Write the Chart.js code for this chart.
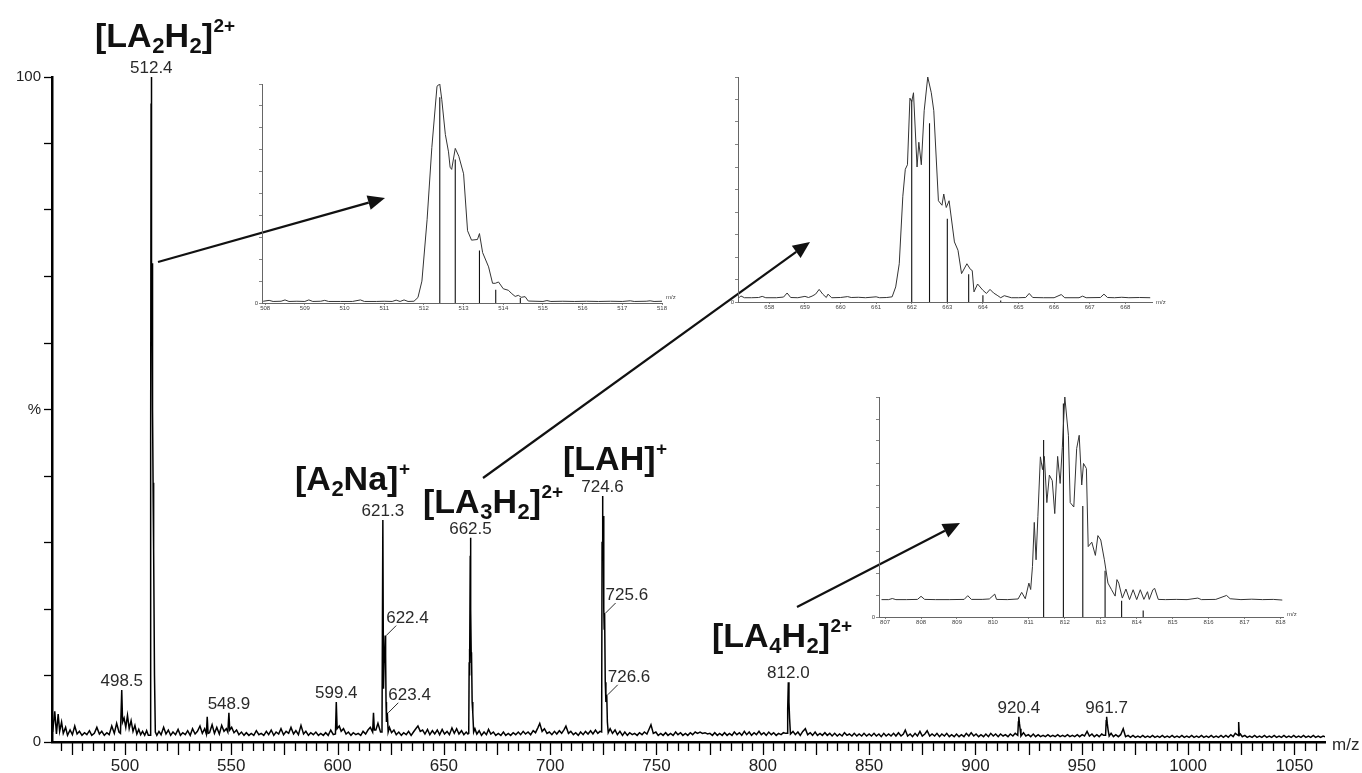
<!DOCTYPE html>
<html><head><meta charset="utf-8">
<script src="https://cdn.jsdelivr.net/npm/chart.js@4.4.0/dist/chart.umd.min.js"></script>
<style>
html,body{margin:0;padding:0;background:#fff;}
#wrap{position:relative;width:1362px;height:773px;overflow:hidden;background:#fff;}
canvas{position:absolute;}
</style></head><body>
<div id="wrap">
<canvas id="main" width="1362" height="773" style="left:0;top:0"></canvas>
<canvas id="in1" width="460" height="245" style="left:230px;top:70px"></canvas>
<canvas id="in2" width="490" height="250" style="left:705px;top:65px"></canvas>
<canvas id="in3" width="470" height="250" style="left:845px;top:385px"></canvas>
</div>
<script>
// ---------------- DATA ----------------
// main spectrum: baseline noise (m/z, %)
const noiseMz = [466,467,467.8,468.6,469.3,470.2,471,472.1,473,474.2,475.3,476.4,477.5,478.6,479.8,481,482.1,483.3,484.4,485.6,486.8,488,489.1,490.3,491.5,492.6,493.8,495,496.1,497.2,
499.6,500.4,501.2,502,502.9,503.8,504.7,505.6,506.5,507.4,508.3,509.3,510.2,511,
515,516,517,518.2,519.3,520.4,521.5,522.6,523.8,525,526.1,527.2,528.4,529.5,530.7,531.8,533,534.1,535.3,536.4,537.5,539.8,541,542.1,543.2,544.4,545.5,546.6,547.7,
550.2,551.3,552.5,553.6,554.8,556,557.1,558.3,559.4,560.6,561.8,563,564.1,565.3,566.5,567.6,568.8,570,571.1,572.3,573.4,574.6,575.8,577,578.1,579.3,580.4,581.6,582.8,584,585.1,586.3,587.4,588.6,589.8,591,592.1,593.3,594.4,595.6,596.8,598,
600.8,601.7,602.8,604,605.1,606.3,607.4,608.6,609.7,610.9,612,613.2,614.3,615.4,618,619,620.2,
624.4,625.4,626.5,627.6,628.8,630,631.1,632.3,633.4,634.6,635.7,636.8,637.8,638.9,640,641.1,642.3,643.4,644.6,645.7,646.9,648,649.2,650.3,651.5,652.6,653.8,654.9,656,657.1,658.3,659.4,660.5,661.3,
664.6,665.5,666.6,667.7,668.9,670,671,672.1,673.3,674.4,675.6,676.8,678,679.1,680.3,681.4,682.6,683.8,685,686.1,687.3,688.4,689.6,690.8,692,693.1,694.3,695.1,696.2,697.3,698.5,699.6,700.8,702,703.1,704.3,705.4,706.6,707.4,708.6,709.7,710.9,712,713.2,714.3,715.5,716.6,717.8,719,720.1,721.3,722.4,723.4,
728.2,729.3,730.5,731.6,732.8,734,735.1,736.3,737.4,738.6,739.7,740.9,742,743.2,744.3,745.5,746.6,747.4,748.5,749.7,750.8,752,753.1,754.3,755.4,756.6,757.8,759,760.1,761.3,762.4,763.6,764.7,765.9,767,768.2,769.3,770.5,771.6,772.8,774,775.1,776.3,777.4,778.6,779.7,780.9,782,783.2,784.3,785.5,786.6,787.8,789,790.1,791.3,792.4,793.6,794.7,795.9,797,798.2,799.3,800.5,801.6,802.8,804,805.1,806.3,807.4,808.6,809.7,810.8,
814.2,815.3,816.5,817.6,818.8,820,821.1,822.3,823.4,824.6,825.7,826.9,828,829.2,830.3,831.5,832.6,833.8,835,836.1,837.3,838.4,839.6,840.7,841.9,843,844.2,845.3,846.5,847.6,848.8,850,851.1,852.3,853.4,854.6,855.7,856.9,858,859.2,860.3,861.5,862.6,863.8,865,866.1,867,868.1,869.3,870.4,871.6,872.7,873.9,875,876.2,877.3,878.5,879.6,880.8,881.9,883.1,884.2,885.4,886.5,887.7,888.8,890,891.1,892.3,893.4,894.6,895.7,896.9,898,899.2,900.3,901.5,902.6,903.8,904.9,906.1,907.2,908.4,909.5,910.7,911.8,913,914.1,915.3,916.4,917.6,918.7,
922.6,923.7,924.9,926,927.2,928.3,929.5,930.6,931.8,932.9,934.1,935.2,936.4,937.5,938.7,939.8,941,942.1,943.3,944.4,945.6,946.7,947.9,949,950.2,951.3,952.5,953.6,954.8,955.9,957.1,958.2,959.4,960.3,
963.8,964.9,966,967.2,968.3,969.5,970.6,971.8,972.9,974.1,975.2,976.4,977.5,978.7,979.8,981,982.1,983.3,984.4,985.6,986.7,987.9,989,990.2,991.3,992.5,993.6,994.8,995.9,997.1,998.2,999.4,1000.5,1001.7,1002.8,1004,1005.1,1006.3,1007.4,1008.6,1009.7,1010.9,1012,1013.2,1014.3,1015.5,1016.6,1017.8,1018.9,1020.1,1021.2,1022.2,
1024.6,1025.5,1026.7,1027.8,1029,1030.1,1031.3,1032.4,1033.6,1034.7,1035.9,1037,1038.2,1039.3,1040.5,1041.6,1042.8,1043.9,1045.1,1046.2,1047.4,1048.5,1049.7,1050.8,1052,1053.1,1054.3,1055.4,1056.6,1057.7,1058.9,1060,1061.2,1062.3,1063.5,1064.4];
const noiseInt = [1.5,4.6,1.2,4.2,1.6,3.0,1.3,2.2,1.0,1.8,1.1,2.4,1.2,1.6,1.0,1.4,1.1,1.7,1.0,1.3,2.2,1.2,1.6,1.0,1.4,1.1,2.4,1.3,2.8,1.5,
3.6,2.2,4.0,2.0,3.2,1.6,2.5,1.2,1.9,1.1,1.6,1.0,1.7,1.0,
1.0,1.6,1.1,2.2,1.2,1.8,1.0,1.5,1.1,1.9,1.0,1.4,1.1,1.7,1.0,2.0,1.2,1.6,2.4,1.3,2.0,1.4,2.6,1.3,2.2,1.2,2.5,1.6,2.0,
2.2,1.4,1.8,1.1,1.5,1.0,1.4,1.0,1.3,1.0,1.7,1.1,1.3,1.0,1.6,1.1,1.8,1.0,1.5,1.2,2.0,1.1,1.6,1.3,2.2,1.2,1.7,1.1,2.5,1.2,1.6,1.0,1.4,1.1,1.5,1.0,1.3,1.0,1.4,1.0,1.8,1.1,
2.4,1.6,2.0,1.2,1.5,1.0,1.4,1.1,1.3,1.0,1.6,1.2,1.8,2.2,1.8,2.8,1.5,
2.2,1.4,1.8,1.1,1.5,1.0,1.4,1.1,1.6,1.0,1.5,2.0,2.4,1.6,1.8,1.2,1.9,1.1,1.7,1.2,1.8,1.1,1.9,1.2,1.6,1.1,2.1,1.3,2.0,1.2,1.7,1.1,1.5,1.2,
2.0,1.2,1.7,1.0,1.5,1.1,1.9,1.2,1.5,1.0,1.3,1.0,1.5,1.0,1.3,1.0,1.4,1.1,1.5,1.1,1.6,1.2,1.5,1.1,1.7,1.4,2.2,2.8,1.6,2.0,1.3,1.5,1.1,1.6,1.2,1.7,1.3,1.9,2.4,1.3,1.6,1.1,1.4,1.0,1.5,1.1,1.6,1.2,1.7,1.2,1.8,1.3,1.6,
2.0,1.3,1.8,1.1,1.6,1.0,1.5,1.0,1.4,1.1,1.3,1.0,1.4,1.1,1.5,1.2,2.0,2.6,1.3,1.5,1.0,1.3,1.0,1.4,1.0,1.3,1.0,1.5,1.1,1.4,1.0,1.3,1.0,1.4,1.1,1.5,1.3,1.5,1.3,1.4,1.2,1.3,1.0,1.4,1.0,1.3,1.0,1.4,1.0,1.3,1.0,1.5,1.1,1.4,1.0,1.6,1.1,1.5,1.0,1.4,1.1,1.6,1.1,1.4,1.0,1.5,1.1,1.4,1.0,1.3,1.1,1.4,1.3,
1.6,1.1,1.5,1.0,1.6,2.0,1.1,1.4,1.0,1.5,1.0,1.3,1.0,1.4,1.0,1.3,0.9,1.3,0.9,1.2,0.9,1.4,1.0,1.2,0.9,1.3,0.9,1.2,0.9,1.3,0.9,1.2,0.9,1.3,0.9,1.2,0.8,1.3,0.9,1.2,0.9,1.3,0.9,1.4,0.9,1.2,1.8,0.9,1.2,0.8,1.3,0.9,1.6,0.9,1.2,1.7,0.9,1.2,0.9,1.3,0.8,1.2,0.9,1.3,0.8,1.1,0.8,1.2,0.8,1.1,0.8,1.3,0.9,1.4,0.9,1.2,0.8,1.1,0.8,1.2,0.8,1.3,0.9,1.2,0.8,1.2,0.9,1.1,0.8,1.2,0.9,1.3,
1.4,0.9,1.1,0.8,1.2,0.8,1.1,0.8,1.0,0.8,1.1,0.8,1.0,0.8,1.1,0.8,1.0,0.8,1.1,0.8,1.0,0.8,1.1,0.8,1.1,0.9,1.6,0.9,1.2,0.8,1.1,0.8,1.2,1.0,
1.3,0.8,1.1,0.8,1.1,2.0,0.8,1.0,0.7,1.0,0.7,0.9,0.7,1.0,0.7,0.9,0.7,1.0,0.7,0.9,0.7,1.0,0.7,0.9,0.7,1.0,0.7,0.9,0.7,1.0,0.7,0.9,0.7,1.0,0.7,0.9,0.7,1.0,0.7,0.9,0.7,1.0,0.7,0.9,0.7,1.0,0.7,1.0,0.7,1.1,0.8,1.3,
1.2,0.8,1.0,0.7,0.9,0.7,1.0,0.7,0.9,0.7,1.0,0.7,0.9,0.7,1.0,0.7,0.9,0.7,1.0,0.7,0.9,0.7,1.0,0.7,0.9,0.7,1.0,0.7,0.9,0.7,1.0,0.7,0.9,0.7,0.9,0.8];
// main spectrum: peak profiles (m/z, %)
const peakMz = [497.9,498.5,498.9,
511.9,512.1,512.3,512.4,512.5,512.6,512.75,512.85,513.0,513.1,513.3,513.4,513.6,513.9,514.3,
538.3,538.7,539.1, 548.4,548.9,549.3, 599.0,599.4,599.8, 616.5,616.9,617.3,
620.9,621.3,621.6,621.9,622.2,622.4,622.6,622.8,623.0,623.4,623.8,
661.7,661.9,662.0,662.2,662.4,662.5,662.7,662.9,663.0,663.3,663.6,664.0,
724.2,724.4,724.6,724.8,725.0,725.1,725.3,725.4,725.6,725.9,726.2,726.4,726.6,726.9,727.3,
811.4,811.7,812.0,812.3,812.6,813.0,
919.9,920.2,920.4,920.7,921.0,921.4,
961.2,961.5,961.7,962.0,962.4,962.9,
1023.5,1023.8,1024.1];
const peakInt = [1.3,7.8,3.0,
1.0,45,96,100,80,62,70,72,66,50,36,39,29,10,1.5,
1.2,3.8,1.3, 1.5,4.4,1.8, 1.2,6.0,2.0, 1.5,4.4,1.8,
1.5,33.4,8,12,14,16,13,6,3.0,4.4,1.5,
1.3,12,14,10,28,30.7,20,12,13.5,6,4.4,1.5,
1.5,30,37,30,34,33,20,17,19.4,9,6,6.5,7.1,3,1.4,
1.3,5,9,6,3.5,1.2,
1.0,3.0,3.8,2.8,2.0,0.9,
1.0,3.2,3.8,2.8,1.8,0.9,
1.0,3.0,1.0];
// labelled peaks (value text, m/z, apex %)
const labelMz  = [498.5,512.4,548.9,599.4,621.3,662.5,724.6,812.0,920.4,961.7];
const labelInt = [7.8,100,4.4,6.0,33.4,30.7,37,9,3.8,3.8];
const sideLabelMz  = [622.4,623.4,725.6,726.6];
const sideLabelInt = [16,4.4,19.4,7.1];
const yTickText = {0:'0',50:'%',100:'100'};

// inset 1 (m/z 508-518)
const in1Mz = [507.95,508.1,508.2,508.4,508.5,508.6,508.8,509.0,509.1,509.2,509.4,509.5,509.6,509.9,510.2,510.4,510.5,510.8,511.0,511.2,511.3,511.4,511.5,511.6,511.75,511.85,511.95,512.08,512.2,512.33,512.4,512.45,512.54,512.62,512.66,512.7,512.79,512.88,513.0,513.1,513.2,513.35,513.4,513.48,513.63,513.73,513.8,513.88,514.0,514.13,514.2,514.3,514.38,514.45,514.55,514.63,514.8,515.0,515.1,515.2,515.5,515.8,516.1,516.4,516.7,517.0,517.2,517.3,517.6,517.7,517.8,518.0];
const in1Int = [0.8,1.2,0.7,0.8,1.4,0.7,0.8,0.7,1.4,0.7,0.8,1.2,0.7,0.7,0.7,1.4,0.7,0.7,0.8,0.7,1.3,0.7,1.4,0.7,0.8,2.5,10,38,71,99,100,93,77,69,62,61,70.6,67,59,33,28.7,29,31.7,23,16.5,9,9,9.6,6.5,5.8,4.5,3.0,3.5,2.6,2.9,0.9,0.8,0.7,1.1,0.7,0.8,0.7,0.8,0.7,0.8,0.7,1.0,0.7,0.8,1.0,0.7,0.8];
const in1StickMz  = [512.4,512.79,513.4,513.81,514.43];
const in1StickInt = [94,65.5,24,6,2.3];

// inset 2 (m/z 657-668)
const in2Mz = [657.15,657.2,657.3,657.5,657.7,657.8,657.9,658.2,658.4,658.5,658.6,658.8,659.0,659.1,659.2,659.3,659.4,659.5,659.6,659.65,659.75,660.0,660.2,660.3,660.5,660.7,661.0,661.1,661.3,661.45,661.55,661.65,661.75,661.82,661.88,661.95,662.0,662.05,662.15,662.2,662.27,662.35,662.45,662.55,662.62,662.75,662.85,662.9,662.97,663.05,663.2,663.3,663.4,663.55,663.65,663.7,663.75,663.85,664.0,664.1,664.2,664.3,664.4,664.5,664.6,664.8,665.0,665.2,665.3,665.4,665.7,666.0,666.2,666.3,666.7,666.8,666.9,667.3,667.4,667.5,667.7,667.9,668.1,668.4,668.7];
const in2Int = [1.9,2.7,1.9,1.9,2.0,2.5,1.9,1.9,2.2,4.0,2.0,1.9,2.5,2.0,2.6,3.5,5.6,3.5,2.0,3.5,1.9,2.0,2.4,2.0,2.1,1.9,2.3,1.9,2.0,2.3,6.7,17,47,59,61,90.6,89,93,60,71,61,85,100,93,85,45,43,48,42,45,26.7,23,12.6,17,14.5,14,4.5,8,5.2,3.8,5.6,4.0,3.0,1.9,2.8,1.9,1.9,2.0,3.8,2.0,1.9,1.9,3.3,1.9,1.9,2.6,1.9,2.0,3.5,2.0,1.9,2.1,1.9,2.0,1.9];
const in2StickMz  = [662.0,662.5,663.0,663.6,664.0,664.5];
const in2StickInt = [89.9,79.5,37,12.3,3,0.7];

// inset 3 (m/z 807-818)
const in3Mz = [806.9,807.1,807.2,807.3,807.6,807.9,808.0,808.1,808.4,808.8,809.2,809.3,809.4,809.7,809.9,810.05,810.1,810.4,810.7,810.8,810.9,811.0,811.05,811.1,811.15,811.2,811.25,811.32,811.38,811.43,811.5,811.57,811.65,811.72,811.8,811.87,811.93,812.0,812.1,812.15,812.25,812.33,812.4,812.47,812.52,812.6,812.65,812.75,812.85,812.92,813.0,813.1,813.2,813.3,813.4,813.45,813.5,813.6,813.7,813.8,813.9,814.0,814.1,814.2,814.3,814.35,814.45,814.5,814.6,814.8,815.1,815.4,815.7,815.8,816.2,816.5,816.6,816.9,817.2,817.5,817.8,818.05];
const in3Int = [7.9,7.9,8.4,7.9,7.9,8.0,9.4,8.0,7.9,7.9,8.0,9.7,8.0,8.0,8.2,10.4,8.0,7.9,8.2,11.2,8.3,15.4,12.5,23,43,26,45.6,72.8,67,73,52,64.5,62,47,73,60.7,77,100,82.6,52,50,76.6,82.6,60,69.8,67.5,32,34,28,37,35,26,15.4,12.4,9.5,17,15.4,8.6,12.7,7.9,12.4,7.9,12.4,8.0,11.5,8.0,12.4,13,8.0,7.9,8.0,7.9,8.6,7.9,8.0,9.8,8.3,7.9,8.1,7.9,8.0,7.7];
const in3StickMz  = [811.41,811.96,812.5,813.12,813.58,814.18];
const in3StickInt = [80.4,97,50.5,21,7.4,3];

// ---------------- BUILD ----------------
const FF = '"Liberation Sans", Arial, Helvetica, sans-serif';
const toPts = (xs, ys) => xs.map((x, i) => ({x: x, y: ys[i]}));
const mainPts = toPts(noiseMz, noiseInt).concat(toPts(peakMz, peakInt)).sort((a, b) => a.x - b.x);
function stickPts(xs, ys) {
  const out = [];
  xs.forEach((x, i) => { out.push({x: x, y: 0}, {x: x, y: ys[i]}, {x: x, y: null}); });
  return out;
}

const ions = [
  {x: 95,  y: 47,  parts: [['[LA',''],['2','sub'],['H',''],['2','sub'],[']',''],['2+','sup']]},
  {x: 295, y: 490, parts: [['[A',''],['2','sub'],['Na]',''],['+','sup']]},
  {x: 423, y: 513, parts: [['[LA',''],['3','sub'],['H',''],['2','sub'],[']',''],['2+','sup']]},
  {x: 563, y: 470, parts: [['[LAH]',''],['+','sup']]},
  {x: 712, y: 647, parts: [['[LA',''],['4','sub'],['H',''],['2','sub'],[']',''],['2+','sup']]}
];
const arrows = [[158, 262, 385, 198], [483, 478, 810, 242], [797, 607, 960, 523]];

function drawFormula(ctx, parts, x, y, size) {
  let cx = x;
  ctx.textBaseline = 'alphabetic';
  ctx.textAlign = 'left';
  parts.forEach(([t, k]) => {
    let fs = size, dy = 0;
    if (k === 'sub') { fs = Math.round(size * 0.66); dy = size * 0.18; }
    if (k === 'sup') { fs = Math.round(size * 0.55); dy = -size * 0.44; }
    ctx.font = 'bold ' + fs + 'px ' + FF;
    ctx.fillText(t, cx, y + dy);
    cx += ctx.measureText(t).width + (k === '' ? 0.5 : 0);
  });
}
function drawArrow(ctx, x1, y1, x2, y2) {
  const a = Math.atan2(y2 - y1, x2 - x1), L = 17, W = 7.5;
  const bx = x2 - L * Math.cos(a), by = y2 - L * Math.sin(a);
  ctx.beginPath(); ctx.moveTo(x1, y1); ctx.lineTo(bx, by);
  ctx.lineWidth = 2.2; ctx.strokeStyle = '#111'; ctx.stroke();
  ctx.beginPath(); ctx.moveTo(x2, y2);
  ctx.lineTo(bx + W * Math.sin(a), by - W * Math.cos(a));
  ctx.lineTo(bx - W * Math.sin(a), by + W * Math.cos(a));
  ctx.closePath(); ctx.fillStyle = '#111'; ctx.fill();
}

const mainPlugin = {
  id: 'mainDeco',
  afterDraw(chart) {
    const ctx = chart.ctx, xs = chart.scales.x, ys = chart.scales.y, ca = chart.chartArea;
    ctx.save();
    // x ticks (minor every 5, major every 25)
    ctx.strokeStyle = '#000'; ctx.lineWidth = 1.3;
    ctx.beginPath();
    xs.ticks.forEach(t => {
      const px = Math.round(xs.getPixelForValue(t.value)) + 0.5;
      const len = (Math.round(t.value) % 25 === 0) ? 12 : 8;
      ctx.moveTo(px, ca.bottom + 1); ctx.lineTo(px, ca.bottom + 1 + len);
    });
    ctx.stroke();
    // peak value labels
    ctx.fillStyle = '#2a2a2a'; ctx.font = '17px ' + FF;
    ctx.textAlign = 'center'; ctx.textBaseline = 'alphabetic';
    labelMz.forEach((m, i) => {
      ctx.fillText(m.toFixed(1), xs.getPixelForValue(m), ys.getPixelForValue(labelInt[i]) - 4);
    });
    ctx.textAlign = 'left';
    ctx.strokeStyle = '#2a2a2a'; ctx.lineWidth = 1;
    sideLabelMz.forEach((m, i) => {
      const px = xs.getPixelForValue(m), py = ys.getPixelForValue(sideLabelInt[i]);
      ctx.beginPath(); ctx.moveTo(px + 1, py); ctx.lineTo(px + 11, py - 10); ctx.stroke();
      ctx.fillText(m.toFixed(1), px + 1, py - 13);
    });
    // m/z
    ctx.font = '17px ' + FF; ctx.textBaseline = 'middle';
    ctx.fillText('m/z', ca.right + 7, ca.bottom + 3);
    // ion formulas
    ctx.fillStyle = '#111';
    ions.forEach(o => drawFormula(ctx, o.parts, o.x, o.y, 34));
    // arrows
    arrows.forEach(a => drawArrow(ctx, a[0], a[1], a[2], a[3]));
    ctx.restore();
  }
};

new Chart(document.getElementById('main'), {
  type: 'line',
  data: {datasets: [{data: mainPts, borderColor: '#000', borderWidth: 1.5, pointRadius: 0, tension: 0, fill: false}]},
  options: {
    responsive: false, animation: false, events: [], parsing: true,
    plugins: {legend: {display: false}, tooltip: {enabled: false}},
    layout: {padding: {left: 0, top: 77, right: 37, bottom: 0}},
    scales: {
      x: {
        type: 'linear', min: 465.7, max: 1064.4,
        afterFit(s) { s.height = 31; },
        grid: {display: true, drawOnChartArea: false, drawTicks: false},
        border: {display: true, color: '#000', width: 2.5},
        ticks: {stepSize: 5, autoSkip: false, includeBounds: false, maxRotation: 0, padding: 14,
          color: '#222', font: {family: FF, size: 17},
          callback: v => (Math.round(v) % 50 === 0 ? String(Math.round(v)) : '')}
      },
      y: {
        type: 'linear', min: 0, max: 100,
        afterFit(s) { s.width = 52; },
        grid: {display: true, drawOnChartArea: false, drawTicks: true, tickLength: 8, tickColor: '#000', tickWidth: 1.3},
        border: {display: true, color: '#000', width: 2.5},
        ticks: {stepSize: 10, autoSkip: false, padding: 3, color: '#222', font: {family: FF, size: 15},
          callback: v => (yTickText[v] !== undefined ? yTickText[v] : '')}
      }
    }
  },
  plugins: [mainPlugin]
});

function makeInset(id, o) {
  const cv = document.getElementById(id);
  const mzPlugin = {
    id: 'mz_' + id,
    afterDraw(chart) {
      const ctx = chart.ctx, ca = chart.chartArea;
      ctx.save(); ctx.fillStyle = '#444'; ctx.font = '6px ' + FF;
      ctx.textAlign = 'left'; ctx.textBaseline = 'alphabetic';
      ctx.fillText('m/z', ca.right + 4, ca.bottom + o.mzDy);
      ctx.restore();
    }
  };
  new Chart(cv, {
    type: 'line',
    data: {datasets: [
      {data: o.profile, borderColor: '#333', borderWidth: 1, pointRadius: 0, tension: 0, fill: false},
      {data: o.sticks, borderColor: '#111', borderWidth: 1.1, pointRadius: 0, tension: 0, fill: false, spanGaps: false}
    ]},
    options: {
      responsive: false, animation: false, events: [],
      plugins: {legend: {display: false}, tooltip: {enabled: false}},
      layout: {padding: {left: 0, top: o.padTop, right: o.padRight, bottom: 0}},
      scales: {
        x: {
          type: 'linear', min: o.xmin, max: o.xmax,
          afterFit(s) { s.height = o.xh; },
          grid: {display: true, drawOnChartArea: false, drawTicks: true, tickLength: 2, tickColor: '#666', tickWidth: 0.8},
          border: {display: true, color: '#666', width: 1},
          ticks: {stepSize: 1, autoSkip: false, includeBounds: false, maxRotation: 0, padding: 0,
            color: '#444', font: {family: FF, size: 6}, callback: v => String(Math.round(v))}
        },
        y: {
          type: 'linear', min: 0, max: 100,
          afterFit(s) { s.width = o.yw; },
          grid: {display: true, drawOnChartArea: false, drawTicks: true, tickLength: 3, tickColor: '#666', tickWidth: 0.8},
          border: {display: true, color: '#666', width: 1},
          ticks: {stepSize: 10, autoSkip: false, padding: 1, color: '#444', font: {family: FF, size: 6},
            callback: v => (v === 0 ? '0' : '')}
        }
      }
    },
    plugins: [mzPlugin]
  });
}

makeInset('in1', {profile: toPts(in1Mz, in1Int), sticks: stickPts(in1StickMz, in1StickInt),
  xmin: 507.92, xmax: 518.0, padTop: 14, padRight: 28, xh: 12, yw: 32, mzDy: -4});
makeInset('in2', {profile: toPts(in2Mz, in2Int), sticks: stickPts(in2StickMz, in2StickInt),
  xmin: 657.12, xmax: 668.75, padTop: 12, padRight: 43, xh: 13, yw: 33, mzDy: 2});
makeInset('in3', {profile: toPts(in3Mz, in3Int), sticks: stickPts(in3StickMz, in3StickInt),
  xmin: 806.83, xmax: 818.07, padTop: 12, padRight: 32, xh: 18, yw: 34, mzDy: -1});
</script>
</body></html>
